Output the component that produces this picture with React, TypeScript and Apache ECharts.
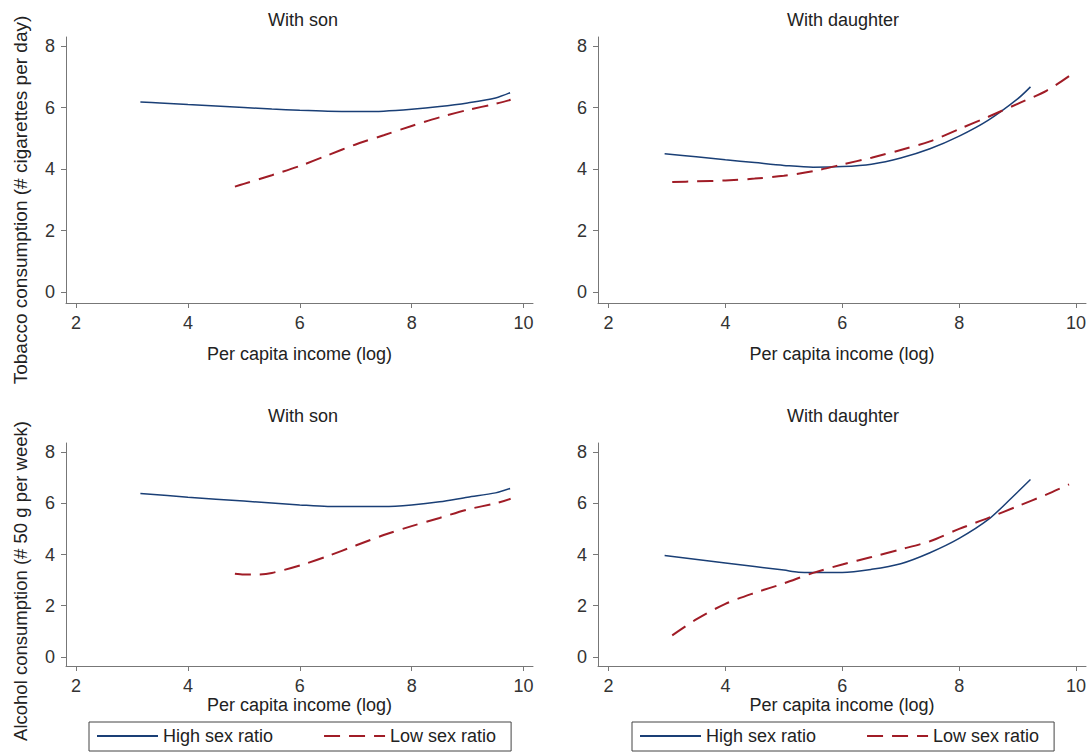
import React, { useEffect, useRef } from "react";
import * as echarts from "echarts";

const FONT = "'Liberation Sans', Arial, Helvetica, sans-serif";
const BLUE = "#1a3f76";
const RED = "#a01c26";
const AXIS = "#777777";

const xTicks = [2, 4, 6, 8, 10];
const yTicks = [0, 2, 4, 6, 8];
const seriesNames = ["High sex ratio", "Low sex ratio"];
const panelTitles = ["With son", "With daughter", "With son", "With daughter"];
const xAxisName = "Per capita income (log)";
const yNameTop = "Tobacco consumption (# cigarettes per day)";
const yNameBottom = "Alcohol consumption (# 50 g per week)";

// Tobacco, with son
const tobSonHighX = [3.15, 3.5, 4, 4.5, 5, 5.5, 6, 6.5, 7, 7.5, 8, 8.5, 9, 9.5, 9.76];
const tobSonHighY = [6.18, 6.15, 6.1, 6.05, 6.0, 5.95, 5.91, 5.88, 5.87, 5.88, 5.94, 6.03, 6.15, 6.31, 6.48];
const tobSonLowX = [4.84, 5, 5.5, 6, 6.5, 7, 7.5, 8, 8.5, 9, 9.5, 9.77];
const tobSonLowY = [3.43, 3.52, 3.8, 4.1, 4.45, 4.8, 5.1, 5.4, 5.68, 5.92, 6.12, 6.25];

// Tobacco, with daughter
const tobDauHighX = [2.96, 3.5, 4, 4.5, 5, 5.5, 6, 6.5, 7, 7.5, 8, 8.5, 9, 9.22];
const tobDauHighY = [4.5, 4.4, 4.3, 4.21, 4.12, 4.06, 4.08, 4.16, 4.36, 4.66, 5.07, 5.59, 6.28, 6.67];
const tobDauLowX = [3.09, 3.5, 4, 4.5, 5, 5.5, 6, 6.5, 7, 7.5, 8, 8.5, 9, 9.5, 9.88];
const tobDauLowY = [3.58, 3.6, 3.63, 3.69, 3.78, 3.93, 4.15, 4.37, 4.62, 4.9, 5.3, 5.7, 6.12, 6.55, 7.02];

// Alcohol, with son
const alcSonHighX = [3.15, 4, 5, 6, 6.5, 7, 7.5, 8, 8.5, 9, 9.5, 9.76];
const alcSonHighY = [6.39, 6.24, 6.09, 5.94, 5.88, 5.88, 5.88, 5.94, 6.06, 6.24, 6.41, 6.58];
const alcSonLowX = [4.84, 5, 5.25, 5.5, 6, 6.5, 7, 7.5, 8, 8.5, 9, 9.5, 9.77];
const alcSonLowY = [3.25, 3.22, 3.22, 3.28, 3.57, 3.94, 4.35, 4.76, 5.11, 5.43, 5.76, 6.0, 6.18];

// Alcohol, with daughter
const alcDauHighX = [2.96, 4, 5, 5.25, 5.5, 6, 6.5, 7, 7.5, 8, 8.5, 8.9, 9.22];
const alcDauHighY = [3.96, 3.67, 3.39, 3.31, 3.3, 3.3, 3.42, 3.64, 4.07, 4.63, 5.37, 6.22, 6.93];
const alcDauLowX = [3.09, 3.5, 4, 4.5, 5, 5.5, 6, 6.5, 7, 7.5, 8, 8.5, 9, 9.5, 9.88];
const alcDauLowY = [0.84, 1.46, 2.07, 2.5, 2.87, 3.28, 3.61, 3.9, 4.2, 4.52, 5.0, 5.43, 5.89, 6.35, 6.74];

const zip = (xs: number[], ys: number[]) => xs.map((x, i) => [x, ys[i]]);

const panels = [
  { high: zip(tobSonHighX, tobSonHighY), low: zip(tobSonLowX, tobSonLowY) },
  { high: zip(tobDauHighX, tobDauHighY), low: zip(tobDauLowX, tobDauLowY) },
  { high: zip(alcSonHighX, alcSonHighY), low: zip(alcSonLowX, alcSonLowY) },
  { high: zip(alcDauHighX, alcDauHighY), low: zip(alcDauLowX, alcDauLowY) },
];

const grids = [
  { left: 66, top: 37, width: 467, height: 266 },
  { left: 598, top: 37, width: 488, height: 266 },
  { left: 66, top: 443, width: 467, height: 223 },
  { left: 598, top: 443, width: 488, height: 223 },
];
const yRanges = [
  [-0.35, 8.29],
  [-0.35, 8.29],
  [-0.36, 8.36],
  [-0.36, 8.36],
];
const titlePos = [
  { x: 303, y: 11 },
  { x: 843, y: 11 },
  { x: 303, y: 407 },
  { x: 843, y: 407 },
];

export default function App() {
  const ref = useRef<HTMLDivElement>(null);
  useEffect(() => {
    document.body.style.margin = "0";
    if (!ref.current) return;
    const chart = echarts.init(ref.current, undefined, { renderer: "svg" });

    const series: any[] = [];
    panels.forEach((p, i) => {
      series.push({
        type: "line",
        name: seriesNames[0],
        xAxisIndex: i,
        yAxisIndex: i,
        data: p.high,
        symbol: "none",
        showSymbol: false,
        smooth: 0.3,
        color: BLUE,
        lineStyle: { color: BLUE, width: 1.5, type: "solid" },
      });
      series.push({
        type: "line",
        name: seriesNames[1],
        xAxisIndex: i,
        yAxisIndex: i,
        data: p.low,
        symbol: "none",
        showSymbol: false,
        smooth: 0.3,
        color: RED,
        lineStyle: { color: RED, width: 2, type: [16, 9] },
      });
    });

    const legendCommon = {
      data: seriesNames,
      top: 722,
      orient: "horizontal",
      itemWidth: 61,
      itemHeight: 14,
      itemGap: 50,
      padding: [5, 15, 6, 7],
      borderColor: "#444",
      borderWidth: 1,
      borderRadius: 0,
      selectedMode: false,
      itemStyle: { color: "rgba(0,0,0,0)", borderWidth: 0, borderColor: "rgba(0,0,0,0)", opacity: 0 },
      textStyle: { fontSize: 18, color: "#222", fontFamily: FONT },
    };

    chart.setOption({
      animation: false,
      backgroundColor: "#ffffff",
      textStyle: { fontFamily: FONT },
      title: panelTitles.map((t, i) => ({
        text: t,
        left: titlePos[i].x,
        top: titlePos[i].y,
        textAlign: "center",
        padding: 0,
        textStyle: { fontSize: 18, fontWeight: "normal", color: "#222", fontFamily: FONT },
      })),
      legend: [
        { ...legendCommon, left: 89 },
        { ...legendCommon, left: 632 },
      ],
      grid: grids.map((g) => ({ ...g, containLabel: false, outerBoundsMode: "none" })),
      xAxis: grids.map((_, i) => ({
        type: "value",
        gridIndex: i,
        min: 1.82,
        max: 10.17,
        name: xAxisName,
        nameLocation: "middle",
        nameGap: i < 2 ? 42 : 30,
        nameTextStyle: { fontSize: 18, color: "#222", fontFamily: FONT },
        axisLine: { show: true, onZero: false, lineStyle: { color: AXIS, width: 1 } },
        axisTick: { show: true, length: 5, customValues: xTicks, lineStyle: { color: AXIS } },
        axisLabel: { customValues: xTicks, fontSize: 18, color: "#333", margin: 11, fontFamily: FONT },
        splitLine: { show: false },
      })),
      yAxis: grids.map((_, i) => ({
        type: "value",
        gridIndex: i,
        min: yRanges[i][0],
        max: yRanges[i][1],
        axisLine: { show: true, onZero: false, lineStyle: { color: AXIS, width: 1 } },
        axisTick: { show: true, length: 5, customValues: yTicks, lineStyle: { color: AXIS } },
        axisLabel: { customValues: yTicks, fontSize: 18, color: "#333", margin: 11, fontFamily: FONT },
        splitLine: { show: false },
      })),
      graphic: [
        {
          type: "text",
          x: 20,
          y: 200,
          rotation: Math.PI / 2,
          style: {
            text: yNameTop,
            fontSize: 19,
            fill: "#222",
            fontFamily: FONT,
            align: "center",
            verticalAlign: "middle",
          },
        },
        {
          type: "text",
          x: 20,
          y: 581,
          rotation: Math.PI / 2,
          style: {
            text: yNameBottom,
            fontSize: 18.5,
            fill: "#222",
            fontFamily: FONT,
            align: "center",
            verticalAlign: "middle",
          },
        },
      ],
      series,
    });

    return () => chart.dispose();
  }, []);

  return <div ref={ref} style={{ width: 1091, height: 752 }} />;
}
